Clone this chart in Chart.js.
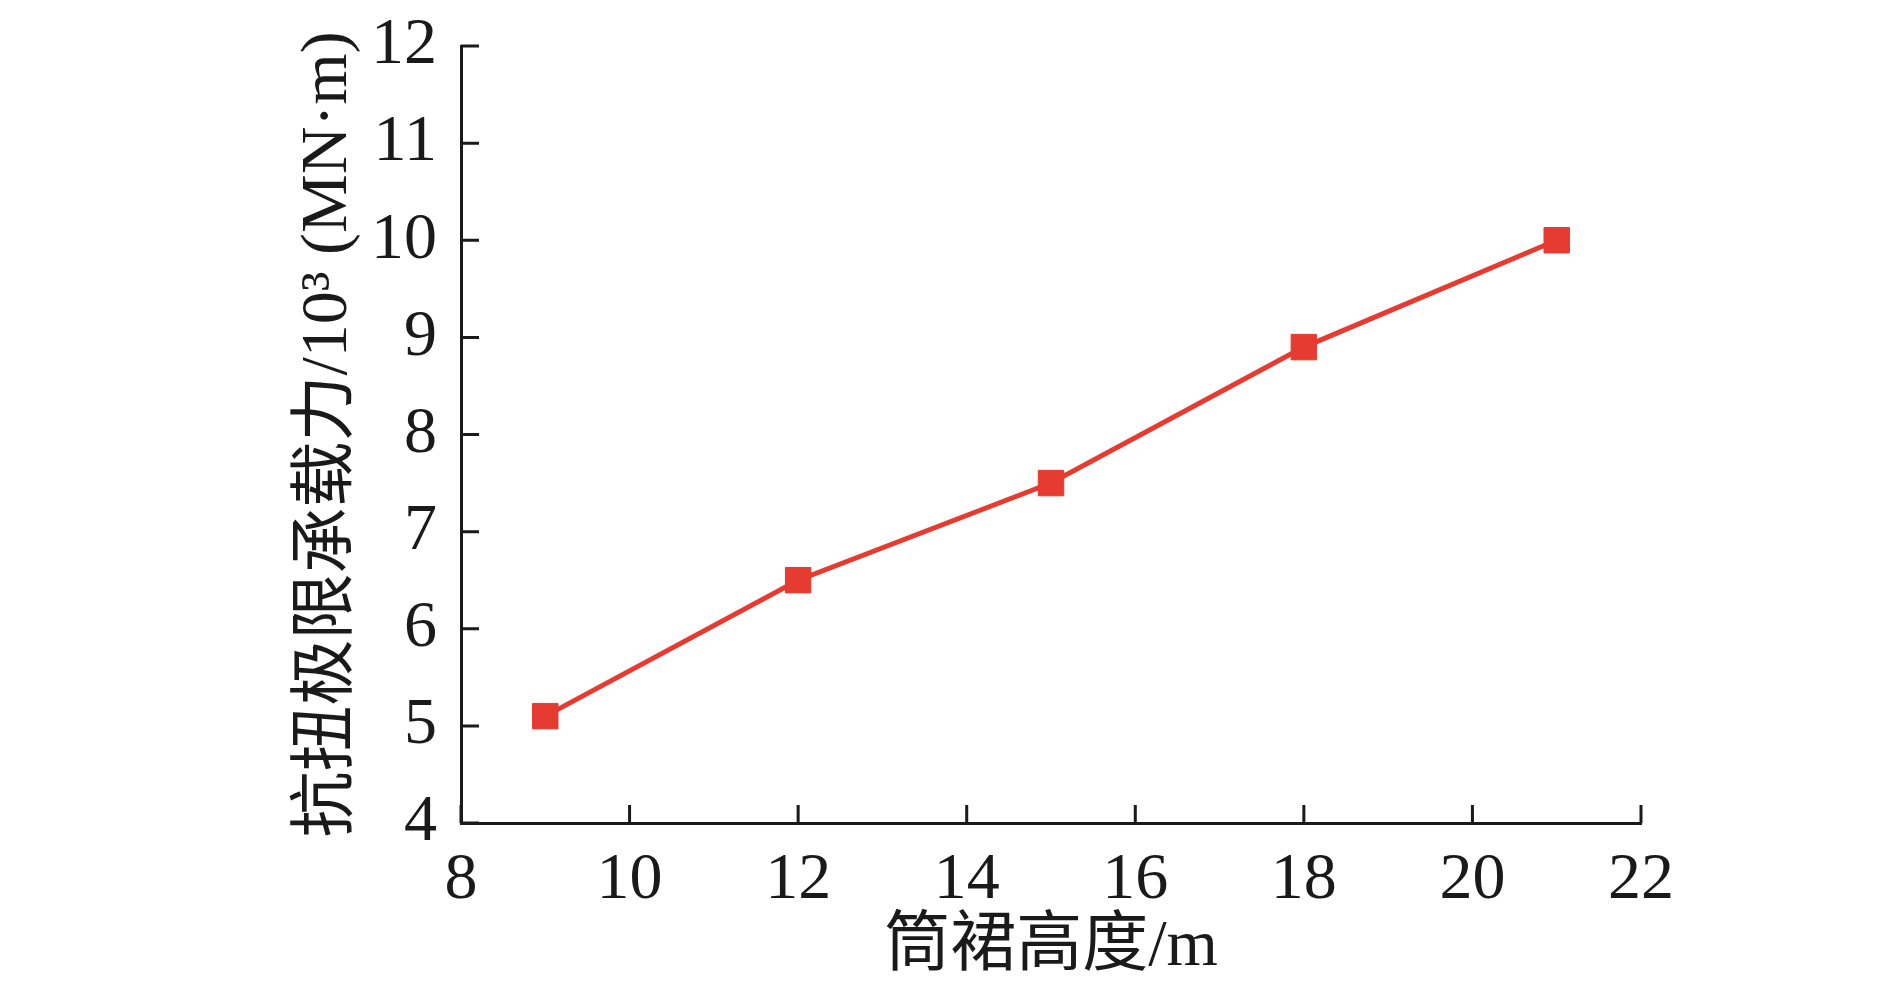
<!DOCTYPE html>
<html>
<head>
<meta charset="utf-8">
<script src="https://cdn.jsdelivr.net/npm/chart.js@4/dist/chart.umd.min.js"></script>
<style>
  body { margin: 0; background: #fff; }
  #wrap { width: 1889px; height: 983px; }
</style>
</head>
<body>
<div id="wrap"><canvas id="chart" width="1889" height="983"></canvas></div>
<script>
// data
var heights = [9, 12, 15, 18, 21];
var capacity = [5.1, 6.5, 7.5, 8.9, 10.0];
var xTitle = '筒裙高度/m';
var yTitle = '抗扭极限承载力/10³ (MN·m)';

var inkColor = '#1a1a1a';
var lineColor = '#e63b31';
var fontFamily = "'Liberation Serif', 'Times New Roman', 'Noto Sans CJK SC', serif";

// ticks pointing into the plot
var innerTicks = {
    id: 'innerTicks',
    afterDraw: function (chart) {
        var ctx = chart.ctx;
        var area = chart.chartArea;
        var len = 18;
        ctx.save();
        ctx.strokeStyle = inkColor;
        ctx.lineWidth = 3;
        ctx.beginPath();
        chart.scales.x.ticks.forEach(function (t) {
            var px = chart.scales.x.getPixelForValue(t.value);
            ctx.moveTo(px, area.bottom);
            ctx.lineTo(px, area.bottom - len);
        });
        chart.scales.y.ticks.forEach(function (t) {
            var py = chart.scales.y.getPixelForValue(t.value);
            ctx.moveTo(area.left, py);
            ctx.lineTo(area.left + len, py);
        });
        ctx.stroke();
        ctx.restore();
    }
};

var points = heights.map(function (h, i) {
    return { x: h, y: capacity[i] };
});

new Chart(document.getElementById('chart'), {
    type: 'line',
    data: {
        datasets: [{
            data: points,
            borderColor: lineColor,
            backgroundColor: lineColor,
            borderWidth: 5,
            pointStyle: 'rect',
            pointRadius: 18,
            pointBorderWidth: 1,
            pointBorderColor: lineColor,
            pointBackgroundColor: lineColor,
            tension: 0,
            fill: false
        }]
    },
    options: {
        responsive: false,
        animation: false,
        layout: { padding: { left: 0, right: 248, top: 46, bottom: 0 } },
        plugins: { legend: { display: false }, tooltip: { enabled: false } },
        scales: {
            x: {
                type: 'linear',
                min: 8,
                max: 22,
                afterFit: function (scale) {
                    scale.height = 160;
                    scale.paddingLeft = 0;
                    scale.paddingRight = 0;
                },
                ticks: {
                    stepSize: 2,
                    color: inkColor,
                    padding: 18,
                    maxRotation: 0,
                    font: { family: fontFamily, size: 66 }
                },
                grid: { display: true, drawOnChartArea: false, drawTicks: false },
                border: { display: true, color: inkColor, width: 3 },
                title: {
                    display: true,
                    text: xTitle,
                    color: inkColor,
                    padding: { top: 0, bottom: 2 },
                    font: { family: fontFamily, size: 66, lineHeight: 1 }
                }
            },
            y: {
                type: 'linear',
                min: 4,
                max: 12,
                afterFit: function (scale) {
                    scale.width = 461;
                    scale.paddingTop = 0;
                    scale.paddingBottom = 0;
                },
                ticks: {
                    stepSize: 1,
                    color: inkColor,
                    padding: 24,
                    font: { family: fontFamily, size: 66 }
                },
                grid: { display: true, drawOnChartArea: false, drawTicks: false },
                border: { display: true, color: inkColor, width: 3 },
                title: {
                    display: true,
                    text: yTitle,
                    color: inkColor,
                    padding: { top: 296, bottom: 0 },
                    font: { family: fontFamily, size: 66, lineHeight: 1 }
                }
            }
        }
    },
    plugins: [innerTicks]
});
</script>
</body>
</html>
